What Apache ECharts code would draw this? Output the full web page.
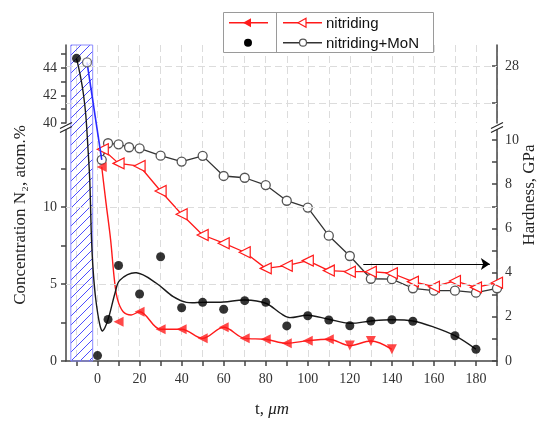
<!DOCTYPE html>
<html>
<head>
<meta charset="utf-8">
<script src="https://cdn.jsdelivr.net/npm/echarts@6/dist/echarts.min.js"></script>
<style>
  html, body { margin: 0; padding: 0; background: #fff; }
  #chart { width: 539px; height: 421px; }
</style>
</head>
<body>
<div id="chart"></div>
<script>
// ---- depth scale (µm) ----
const depthTicks  = [-10, 0, 10, 20, 30, 40, 50, 60, 70, 80, 90, 100, 110, 120, 130, 140, 150, 160, 170, 180, 190];
const depthLabels = [0, 20, 40, 60, 80, 100, 120, 140, 160, 180];

// ---- concentration axis (broken: 0–15 and 40–45.7 at.%) ----
const concLowTicks   = [0, 2.5, 5, 7.5, 10, 12.5];
const concLowLabels  = [0, 5, 10];
const concHighTicks  = [40, 41, 42, 43, 44, 45];
const concHighLabels = [40, 42, 44];

// ---- hardness axis (broken: 0–10.5 and 26.5–28.6 GPa) ----
const hardLowTicks   = [0, 1, 2, 3, 4, 5, 6, 7, 8, 9, 10];
const hardLowLabels  = [0, 2, 4, 6, 8, 10];
const hardHighTicks  = [27, 28];
const hardHighLabels = [28];

// ---- nitrogen concentration, nitriding+MoN (filled dots) ----
const moConcDepth = [-10, 0, 5, 10, 20, 30, 40, 50, 60, 70, 80, 90, 100, 110, 120, 130, 140, 150, 170, 180];
const moConc      = [44.7, 0.35, 2.7, 6.2, 4.35, 6.77, 3.46, 3.81, 3.36, 3.92, 3.81, 2.28, 2.94, 2.66, 2.29, 2.6, 2.68, 2.58, 1.64, 0.76];

// smoothed trend through the nitriding+MoN concentration
const moFitDepth = [-10, -8.4, -6.8, -5.6, -4.5, -3.7, -2.9, -2.1, -0.8, 1.1, 2.4, 5, 8.3, 10.6, 18.5, 28, 36, 42.3, 50, 60, 70, 80, 87, 91, 100, 110, 120, 130, 140, 150, 160, 170, 180];
const moFitConc  = [44.7, 43.6, 42.2, 40.6, 13.7, 11.75, 8.05, 5.9, 3.96, 2.34, 1.95, 2.7, 4.4, 5.25, 5.73, 5.05, 4.18, 3.81, 3.81, 3.83, 3.96, 3.75, 3.1, 2.82, 2.97, 2.71, 2.45, 2.6, 2.68, 2.6, 2.2, 1.64, 0.76];

// ---- nitrogen concentration, nitriding (filled triangles) ----
const nConcDepth = [2, 10, 20, 30, 40, 50, 60, 70, 80, 90, 100, 110, 120, 130, 140];
const nConc      = [12.6, 2.55, 3.2, 2.06, 2.06, 1.47, 2.19, 1.47, 1.41, 1.15, 1.32, 1.41, 1.0, 1.3, 0.76];

// smoothed trend through the nitriding concentration
const nFitDepth = [2, 4, 6.2, 8, 9.5, 12.2, 16, 20, 30, 40, 50, 60, 70, 80, 90, 100, 110, 120, 130, 140];
const nFitConc  = [12.6, 10.3, 7.9, 5.3, 4.0, 3.2, 2.99, 3.2, 2.06, 2.06, 1.47, 2.19, 1.47, 1.41, 1.15, 1.32, 1.41, 1.0, 1.3, 0.76];

// ---- hardness, nitriding+MoN (open circles) ----
const moHardDepth = [-5, 2, 5, 10, 15, 20, 30, 40, 50, 60, 70, 80, 90, 100, 110, 120, 130, 140, 150, 160, 170, 180, 190];
const moHard      = [28.1, 9.1, 9.85, 9.8, 9.67, 9.62, 9.29, 9.02, 9.28, 8.37, 8.29, 7.96, 7.25, 6.94, 5.67, 4.75, 3.72, 3.70, 3.29, 3.18, 3.18, 3.09, 3.29];

// ---- hardness, nitriding (open triangles) ----
const nHardDepth = [2.5, 10, 20, 30, 40, 50, 60, 70, 80, 90, 100, 110, 120, 130, 140, 150, 160, 170, 180, 190];
const nHard      = [9.58, 8.94, 8.82, 7.69, 6.64, 5.7, 5.33, 4.92, 4.19, 4.31, 4.54, 4.09, 4.04, 4.04, 3.97, 3.59, 3.36, 3.62, 3.33, 3.54];

// hatched surface layer (µm) and the arrow pointing to the hardness axis
const layerSpan  = [-12.7, -2.3];
const arrowSpan  = [126.4, 186.6];
const arrowLevel = [4.39];

// axis extents of the two panels
const X_MIN = -15, X_MAX = 190;
const CONC_LOW = [0, 15], CONC_HIGH = [40, 45.67];
const HARD_LOW = [0, 10.45], HARD_HIGH = [26.46, 28.57];
const CONC_SPLIT = 30, HARD_SPLIT = 20;   // values above go to the upper panel

const SERIF = 'Liberation Serif';
const RED = '#ff1a1a';
const axisLineStyle = { color: '#444', width: 1.5 };
const gridLineStyle = { color: '#dcdcdc', width: 1, type: [7, 4] };
const labelStyle = { fontFamily: SERIF, fontSize: 14, color: '#333' };

const zip = (xs, ys) => xs.map((x, i) => [x, ys[i]]);
const upper = (xs, ys, split) => zip(xs, ys).filter(p => p[1] >= split);
const lower = (xs, ys, split) => zip(xs, ys).filter(p => p[1] < split);

function yAxis(grid, pos, range, ticks, labels, inside) {
  return {
    type: 'value', gridIndex: grid, position: pos, min: range[0], max: range[1],
    axisLine: { show: true, onZero: false, lineStyle: axisLineStyle },
    axisTick: { show: true, inside: inside, length: 5, customValues: ticks, lineStyle: axisLineStyle },
    axisLabel: Object.assign({ customValues: labels, margin: inside ? 8 : 9 }, labelStyle),
    splitLine: { show: false }
  };
}

const chart = echarts.init(document.getElementById('chart'), null, { renderer: 'canvas', width: 539, height: 421 });

const option = {
  animation: false,
  backgroundColor: '#fff',
  grid: [
    { left: 66, right: 42, top: 45, height: 78 },
    { left: 66, right: 42, top: 130, height: 231 }
  ],
  xAxis: [
    {
      type: 'value', gridIndex: 0, min: X_MIN, max: X_MAX,
      axisLine: { show: false, onZero: false }, axisTick: { show: false, customValues: depthTicks },
      axisLabel: { show: false, customValues: depthLabels },
      splitLine: { show: true, lineStyle: gridLineStyle }
    },
    {
      type: 'value', gridIndex: 1, min: X_MIN, max: X_MAX, position: 'bottom',
      axisLine: { show: true, onZero: false, lineStyle: axisLineStyle },
      axisTick: { show: true, length: 5, customValues: depthTicks, lineStyle: axisLineStyle },
      axisLabel: Object.assign({ customValues: depthLabels, margin: 11 }, labelStyle),
      splitLine: { show: true, lineStyle: gridLineStyle }
    }
  ],
  yAxis: [
    yAxis(0, 'left', CONC_HIGH, concHighTicks, concHighLabels, false),
    yAxis(0, 'right', HARD_HIGH, hardHighTicks, hardHighLabels, true),
    yAxis(1, 'left', CONC_LOW, concLowTicks, concLowLabels, false),
    yAxis(1, 'right', HARD_LOW, hardLowTicks, hardLowLabels, true)
  ],
  series: [
    // upper panel
    {
      type: 'scatter', xAxisIndex: 0, yAxisIndex: 0, z: 6,
      data: upper(moConcDepth, moConc, CONC_SPLIT),
      symbol: 'circle', symbolSize: 9, itemStyle: { color: '#000' }
    },
    {
      type: 'scatter', xAxisIndex: 0, yAxisIndex: 1, z: 6,
      data: upper(moHardDepth, moHard, HARD_SPLIT),
      symbol: 'circle', symbolSize: 9,
      itemStyle: { color: '#fff', borderColor: '#555', borderWidth: 1.3 },
      markLine: {
        silent: true, symbol: 'none', label: { show: false },
        lineStyle: gridLineStyle,
        data: hardHighTicks.map(v => ({ yAxis: v }))
      }
    },
    // lower panel: nitriding concentration trend
    {
      type: 'line', xAxisIndex: 1, yAxisIndex: 2, z: 3,
      data: zip(nFitDepth, nFitConc), smooth: 0.35, showSymbol: false,
      lineStyle: { color: RED, width: 1.4 },
      markLine: {
        silent: true, symbol: 'none', label: { show: false },
        lineStyle: gridLineStyle,
        data: concLowLabels.filter(v => v > 0).map(v => ({ yAxis: v }))
      }
    },
    // hardness, nitriding+MoN
    {
      type: 'line', xAxisIndex: 1, yAxisIndex: 3, z: 4,
      data: lower(moHardDepth, moHard, HARD_SPLIT),
      symbol: 'circle', symbolSize: 9,
      itemStyle: { color: '#fff', borderColor: '#555', borderWidth: 1.3 },
      lineStyle: { color: '#333', width: 1.3 },
      markLine: {
        silent: true, symbol: ['none', 'arrow'], symbolSize: 9, label: { show: false },
        lineStyle: { color: '#000', width: 1.2, type: 'solid' },
        data: [[{ coord: [arrowSpan[0], arrowLevel[0]] }, { coord: [arrowSpan[1], arrowLevel[0]] }]]
      }
    },
    // hardness, nitriding
    {
      type: 'line', xAxisIndex: 1, yAxisIndex: 3, z: 4,
      data: zip(nHardDepth, nHard),
      symbol: 'triangle', symbolSize: 11, symbolRotate: 90,
      itemStyle: { color: '#fff', borderColor: RED, borderWidth: 1.2 },
      lineStyle: { color: RED, width: 1.3 }
    },
    // concentration, nitriding+MoN (lower part)
    {
      type: 'scatter', xAxisIndex: 1, yAxisIndex: 2, z: 6,
      data: lower(moConcDepth, moConc, CONC_SPLIT),
      symbol: 'circle', symbolSize: 9, itemStyle: { color: '#000' }
    },
    // concentration, nitriding
    {
      type: 'scatter', xAxisIndex: 1, yAxisIndex: 2, z: 6,
      data: zip(nConcDepth, nConc).map(p => ({ value: p, symbolRotate: p[0] >= 120 ? 180 : 90 })),
      symbol: 'triangle', symbolSize: 10, itemStyle: { color: RED }
    }
  ]
};
chart.setOption(option);

// ---- elements that span both panels ----
function toPx(x, v, split, highAxis, lowAxis) {
  return v >= split
    ? chart.convertToPixel({ xAxisIndex: 0, yAxisIndex: highAxis }, [x, v])
    : chart.convertToPixel({ xAxisIndex: 1, yAxisIndex: lowAxis }, [x, v]);
}
const concPx = (x, v) => toPx(x, v, CONC_SPLIT, 0, 2);
const hardPx = (x, v) => toPx(x, v, HARD_SPLIT, 1, 3);

const plotTop = chart.convertToPixel({ yAxisIndex: 0 }, CONC_HIGH[1]);
const plotBottom = chart.convertToPixel({ yAxisIndex: 2 }, CONC_LOW[0]);
const leftX = chart.convertToPixel({ xAxisIndex: 1 }, X_MIN);
const rightX = chart.convertToPixel({ xAxisIndex: 1 }, X_MAX);
const gapTop = chart.convertToPixel({ yAxisIndex: 0 }, CONC_HIGH[0]);
const gapBottom = chart.convertToPixel({ yAxisIndex: 2 }, CONC_LOW[1]);
const gapMid = (gapTop + gapBottom) / 2;

// diagonal hatch tile
const tile = document.createElement('canvas');
tile.width = 9; tile.height = 9;
(function () {
  const g = tile.getContext('2d');
  g.strokeStyle = '#4d4dff'; g.lineWidth = 1;
  g.beginPath();
  g.moveTo(-1, 10); g.lineTo(10, -1);
  g.moveTo(-1, 1); g.lineTo(1, -1);
  g.moveTo(8, 10); g.lineTo(10, 8);
  g.stroke();
})();

const layerX0 = chart.convertToPixel({ xAxisIndex: 1 }, layerSpan[0]);
const layerX1 = chart.convertToPixel({ xAxisIndex: 1 }, layerSpan[1]);

const moFitPts = moFitDepth.map((x, i) => concPx(x, moFitConc[i]));
const connector = [hardPx(moHardDepth[0], moHard[0]), hardPx(moHardDepth[1], moHard[1])];

function breakMarks(x) {
  return [0, 4].map(d => ({
    type: 'line', z: 20,
    shape: { x1: x - 6, y1: gapMid + 2 + d, x2: x + 6, y2: gapMid - 4 + d },
    style: { stroke: '#222', lineWidth: 1.2 }
  }));
}

// left-pointing triangle for the legend keys
function leftTriangle(cx, cy, r) {
  return [[cx - r, cy], [cx + r * 0.6, cy - r * 0.9], [cx + r * 0.6, cy + r * 0.9]];
}

const legendX = 223.5, legendY = 12.5, legendW = 210, legendH = 40, legendDiv = 276.5;
const row1 = 22.7, row2 = 42.7;

const graphic = [
  // surface layer
  {
    type: 'rect', z: 1,
    shape: { x: layerX0, y: plotTop, width: layerX1 - layerX0, height: plotBottom - plotTop },
    style: { fill: { image: tile, repeat: 'repeat' }, stroke: '#8c8cff', lineWidth: 1 }
  },
  // concentration trend across the axis break
  {
    type: 'polyline', z: 5,
    shape: { points: moFitPts, smooth: 0.35 },
    style: { stroke: '#1a1a1a', lineWidth: 1.4, fill: null }
  },
  // surface hardness joined to the first measured point
  {
    type: 'line', z: 5,
    shape: { x1: connector[0][0], y1: connector[0][1], x2: connector[1][0], y2: connector[1][1] },
    style: { stroke: '#2a2aff', lineWidth: 1.6 }
  },
  ...breakMarks(leftX),
  ...breakMarks(rightX),
  // axis titles
  {
    type: 'text', z: 20, x: 21, y: 215, rotation: Math.PI / 2,
    style: { text: 'Concentration N₂, atom.%', font: '17px "Liberation Serif"', fill: '#222', align: 'center', verticalAlign: 'middle' }
  },
  {
    type: 'text', z: 20, x: 530, y: 195, rotation: Math.PI / 2,
    style: { text: 'Hardness, GPa', font: '17px "Liberation Serif"', fill: '#222', align: 'center', verticalAlign: 'middle' }
  },
  {
    type: 'text', z: 20, x: 272, y: 410,
    style: {
      text: 't, {i|μm}', font: '17px "Liberation Serif"', fill: '#222', align: 'center', verticalAlign: 'middle',
      rich: { i: { fontFamily: SERIF, fontSize: 17, fontStyle: 'italic', fill: '#222' } }
    }
  },
  // legend box
  {
    type: 'rect', z: 30,
    shape: { x: legendX, y: legendY, width: legendW, height: legendH },
    style: { fill: '#fff', stroke: '#9a9a9a', lineWidth: 1 }
  },
  {
    type: 'line', z: 31,
    shape: { x1: legendDiv, y1: legendY, x2: legendDiv, y2: legendY + legendH },
    style: { stroke: '#9a9a9a', lineWidth: 1 }
  },
  { type: 'line', z: 31, shape: { x1: 229, y1: row1, x2: 268, y2: row1 }, style: { stroke: RED, lineWidth: 1.4 } },
  { type: 'polygon', z: 32, shape: { points: leftTriangle(248, row1, 5) }, style: { fill: RED } },
  { type: 'circle', z: 32, shape: { cx: 248, cy: row2, r: 4 }, style: { fill: '#000' } },
  { type: 'line', z: 31, shape: { x1: 283, y1: row1, x2: 322, y2: row1 }, style: { stroke: RED, lineWidth: 1.4 } },
  { type: 'polygon', z: 32, shape: { points: leftTriangle(303, row1, 5) }, style: { fill: '#fff', stroke: RED, lineWidth: 1.2 } },
  { type: 'line', z: 31, shape: { x1: 283, y1: row2, x2: 322, y2: row2 }, style: { stroke: '#333', lineWidth: 1.4 } },
  { type: 'circle', z: 32, shape: { cx: 303, cy: row2, r: 3.5 }, style: { fill: '#fff', stroke: '#555', lineWidth: 1.2 } },
  { type: 'text', z: 32, x: 326, y: row1 + 1, style: { text: 'nitriding', font: '15px "Liberation Sans"', fill: '#111', verticalAlign: 'middle' } },
  { type: 'text', z: 32, x: 326, y: row2 + 1, style: { text: 'nitriding+MoN', font: '15px "Liberation Sans"', fill: '#111', verticalAlign: 'middle' } }
];

chart.setOption({ graphic: graphic });
</script>
</body>
</html>
